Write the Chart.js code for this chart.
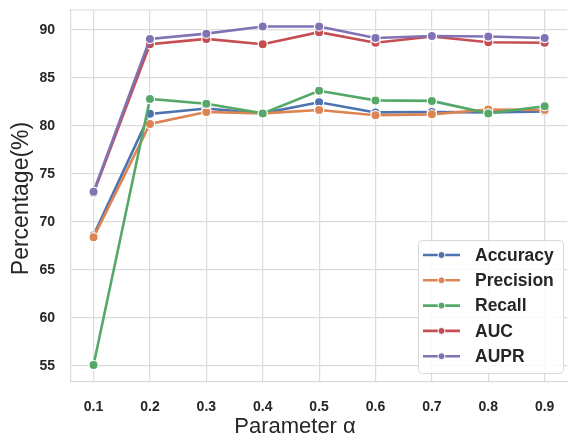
<!DOCTYPE html>
<html>
<head>
<meta charset="utf-8">
<script src="https://cdn.jsdelivr.net/npm/chart.js@4.4.1/dist/chart.umd.min.js"></script>
<style>
  html, body { margin: 0; padding: 0; background: #fff; overflow: hidden; }
  #wrap { width: 573px; height: 437px; }
</style>
</head>
<body>
<div id="wrap"><canvas id="chartOfMetrics"></canvas></div>
<script>
'use strict';

// data
let alphaValues = [0.1, 0.2, 0.3, 0.4, 0.5, 0.6, 0.7, 0.8, 0.9];
let metricNames = ['Accuracy', 'Precision', 'Recall', 'AUC', 'AUPR'];
let accuracyValues = [68.6, 81.25, 81.8, 81.3, 82.45, 81.4, 81.45, 81.4, 81.5];
let precisionValues = [68.4, 80.2, 81.45, 81.3, 81.65, 81.1, 81.2, 81.7, 81.65];
let recallValues = [55.1, 82.8, 82.3, 81.3, 83.65, 82.65, 82.6, 81.3, 82.05];
let aucValues = [73.0, 88.5, 89.05, 88.5, 89.75, 88.65, 89.3, 88.7, 88.65];
let auprValues = [73.15, 89.05, 89.6, 90.35, 90.35, 89.15, 89.35, 89.3, 89.15];
let yTickValues = [55, 60, 65, 70, 75, 80, 85, 90];
let xAxisTitle = 'Parameter α';
let yAxisTitle = 'Percentage(%)';

let seriesValues = [accuracyValues, precisionValues, recallValues, aucValues, auprValues];
let seriesColors = ['#4c72b0', '#dd8452', '#55a868', '#c44e52', '#8172b3'];

let gridColor = '#dcdcdc';
let textColor = '#262626';
let fontFamily = '"Liberation Sans", Arial, sans-serif';

let ctx = document.getElementById('chartOfMetrics');

let datasets = [];
for (let i = 0; i < metricNames.length; i++) {
  let points = [];
  for (let j = 0; j < alphaValues.length; j++) {
    points.push({ x: alphaValues[j], y: seriesValues[i][j] });
  }
  datasets.push({
    label: metricNames[i],
    data: points,
    borderColor: seriesColors[i],
    backgroundColor: seriesColors[i],
    pointBackgroundColor: seriesColors[i],
    pointBorderColor: '#ffffff',
    pointBorderWidth: 1.2,
    pointRadius: 4.6,
    borderWidth: 2.6,
    tension: 0,
    order: metricNames.length - i
  });
}

// top spine, axis titles and legend box
let framePlugin = {
  id: 'framePlugin',
  beforeDatasetsDraw(chart) {
    let c = chart.ctx;
    let area = chart.chartArea;
    c.save();
    c.strokeStyle = gridColor;
    c.lineWidth = 1.2;
    c.beginPath();
    c.moveTo(area.left, area.top);
    c.lineTo(area.right, area.top);
    c.stroke();
    c.restore();
  },
  afterDraw(chart) {
    let c = chart.ctx;

    // axis titles
    c.save();
    c.fillStyle = textColor;
    c.textAlign = 'center';
    c.textBaseline = 'alphabetic';
    c.font = '22px ' + fontFamily;
    c.fillText(xAxisTitle, 295, 433);
    c.restore();

    c.save();
    c.fillStyle = textColor;
    c.textAlign = 'center';
    c.textBaseline = 'alphabetic';
    c.translate(28, 198.5);
    c.rotate(-Math.PI / 2);
    c.font = '23px ' + fontFamily;
    c.fillText(yAxisTitle, 0, 0);
    c.restore();

    // legend
    let boxX = 418;
    let boxY = 240;
    let boxW = 145;
    let boxH = 133;
    c.save();
    c.fillStyle = 'rgba(255,255,255,0.85)';
    c.strokeStyle = '#d8d8d8';
    c.lineWidth = 1;
    c.beginPath();
    c.roundRect(boxX + 0.5, boxY + 0.5, boxW, boxH, 4);
    c.fill();
    c.stroke();
    c.font = 'bold 17.5px ' + fontFamily;
    c.textBaseline = 'middle';
    for (let i = 0; i < metricNames.length; i++) {
      let rowY = boxY + 15 + i * 25.3;
      c.strokeStyle = seriesColors[i];
      c.lineWidth = 2.6;
      c.beginPath();
      c.moveTo(boxX + 5, rowY);
      c.lineTo(boxX + 42, rowY);
      c.stroke();
      c.fillStyle = seriesColors[i];
      c.strokeStyle = '#ffffff';
      c.lineWidth = 1;
      c.beginPath();
      c.arc(boxX + 23.5, rowY, 3.5, 0, Math.PI * 2);
      c.fill();
      c.stroke();
      c.fillStyle = textColor;
      c.fillText(metricNames[i], boxX + 57, rowY + 1);
    }
    c.restore();
  }
};

let chartObject = {
  type: 'line',
  data: { datasets: datasets },
  options: {
    responsive: true,
    maintainAspectRatio: false,
    animation: false,
    layout: { padding: { top: 10, left: 0, right: 0, bottom: 0 } },
    plugins: {
      legend: { display: false },
      tooltip: { enabled: false }
    },
    scales: {
      x: {
        type: 'linear',
        min: 0.06,
        max: 0.94,
        afterBuildTicks(scale) {
          scale.ticks = alphaValues.map(v => ({ value: v }));
        },
        afterFit(scale) {
          scale.height = 55;
          scale.paddingLeft = 0;
          scale.paddingRight = 0;
        },
        grid: { color: gridColor, lineWidth: 1.2, drawTicks: false },
        border: { color: gridColor, width: 1.2 },
        ticks: {
          color: textColor,
          padding: 17,
          maxRotation: 0,
          font: { family: fontFamily, size: 14, weight: 'bold' },
          callback: v => v.toFixed(1)
        }
      },
      y: {
        min: 53.34,
        max: 92.06,
        afterBuildTicks(scale) {
          scale.ticks = yTickValues.map(v => ({ value: v }));
        },
        afterFit(scale) {
          scale.width = 71;
          scale.paddingTop = 0;
          scale.paddingBottom = 0;
        },
        grid: { color: gridColor, lineWidth: 1.2, drawTicks: false },
        border: { color: gridColor, width: 1.2 },
        ticks: {
          color: textColor,
          padding: 16,
          font: { family: fontFamily, size: 14, weight: 'bold' }
        }
      }
    }
  },
  plugins: [framePlugin]
};

const chartOfMetricsByAlpha = new Chart(ctx, chartObject);
</script>
</body>
</html>
